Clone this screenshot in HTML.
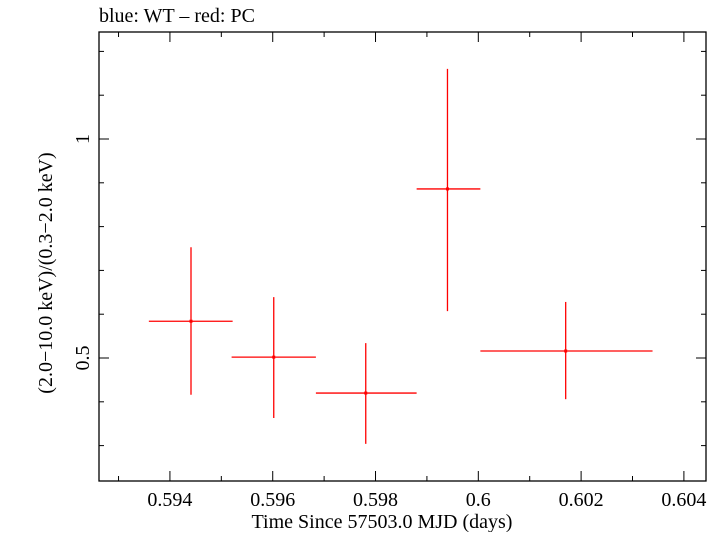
<!DOCTYPE html>
<html><head><meta charset="utf-8"><style>
body{margin:0;background:#fff;}
svg text{font-family:"Liberation Serif",serif;fill:#000;}
</style></head><body>
<svg width="720" height="532" viewBox="0 0 720 532" xmlns="http://www.w3.org/2000/svg">
<text x="99" y="22" font-size="20">blue: WT – red: PC</text>
<rect x="99" y="32" width="607" height="449" fill="none" stroke="#000" stroke-width="1.3"/>
<g id="ticks"></g>
<g id="marks"></g>
<text x="382" y="528" font-size="20" text-anchor="middle">Time Since 57503.0 MJD (days)</text>
<text transform="translate(52,273) rotate(-90)" font-size="20" text-anchor="middle">(2.0−10.0 keV)/(0.3−2.0 keV)</text>
</svg>
<script>
const times=[0.59441,0.59602,0.59781,0.59940,0.60170];
const timeLo=[0.59359,0.59520,0.59684,0.59880,0.60004];
const timeHi=[0.59522,0.59684,0.59880,0.60004,0.60339];
const ratios=[0.584,0.502,0.420,0.886,0.516];
const ratioLo=[0.416,0.363,0.304,0.607,0.406];
const ratioHi=[0.753,0.639,0.534,1.160,0.628];
const xTickLabels=["0.594","0.596","0.598","0.6","0.602","0.604"];
const xTickValues=[0.594,0.596,0.598,0.600,0.602,0.604];
const yTickLabels=["0.5","1"];
const yTickValues=[0.5,1.0];

const X0=99,X1=706,Y0=481,Y1=32;
const xmin=0.59262,xmax=0.60443,ymin=0.2192,ymax=1.2443;
const xs=v=>X0+(v-xmin)/(xmax-xmin)*(X1-X0);
const ys=v=>Y0-(v-ymin)/(ymax-ymin)*(Y0-Y1);
const NS="http://www.w3.org/2000/svg";
function mk(tag,attrs,parent){const e=document.createElementNS(NS,tag);for(const k in attrs)e.setAttribute(k,attrs[k]);parent.appendChild(e);return e;}
const tg=document.getElementById('ticks');
for(let i=0;i<=11;i++){const v=0.593+i*0.001;const x=xs(v);const major=i%2===1;const L=major?10:5;
 let t=mk('line',{x1:x,x2:x,y1:Y0,y2:Y0-L,stroke:'#000','stroke-width':1},tg);
 
 
 t=mk('line',{x1:x,x2:x,y1:Y1,y2:Y1+L,stroke:'#000','stroke-width':1},tg);
 
 }
xTickValues.forEach((v,i)=>{const t=mk('text',{x:xs(v),y:506,'font-size':20,'text-anchor':'middle'},tg);t.textContent=xTickLabels[i];
 
 });
for(let i=3;i<=12;i++){const v=i/10;const y=ys(v);const major=(i===5||i===10);const L=major?10:5;
 let t=mk('line',{x1:X0,x2:X0+L,y1:y,y2:y,stroke:'#000','stroke-width':1},tg);
 
 
 t=mk('line',{x1:X1,x2:X1-L,y1:y,y2:y,stroke:'#000','stroke-width':1},tg);
 
 }
yTickValues.forEach((v,i)=>{const y=ys(v);const t=mk('text',{'font-size':20,'text-anchor':'middle',transform:`translate(89,${y}) rotate(-90)`},tg);t.textContent=yTickLabels[i];
 
 });
const mg=document.getElementById('marks');
times.forEach((t,i)=>{
 const g=mk('g',{},mg);
 
 
 mk('line',{x1:xs(timeLo[i]),x2:xs(timeHi[i]),y1:ys(ratios[i]),y2:ys(ratios[i]),stroke:'#f00','stroke-width':1.3},g);
 mk('line',{x1:xs(t),x2:xs(t),y1:ys(ratioLo[i]),y2:ys(ratioHi[i]),stroke:'#f00','stroke-width':1.3},g);
 mk('rect',{x:xs(t)-1.5,y:ys(ratios[i])-1.5,width:3,height:3,fill:'#f00'},g);
});
</script>
</body></html>
